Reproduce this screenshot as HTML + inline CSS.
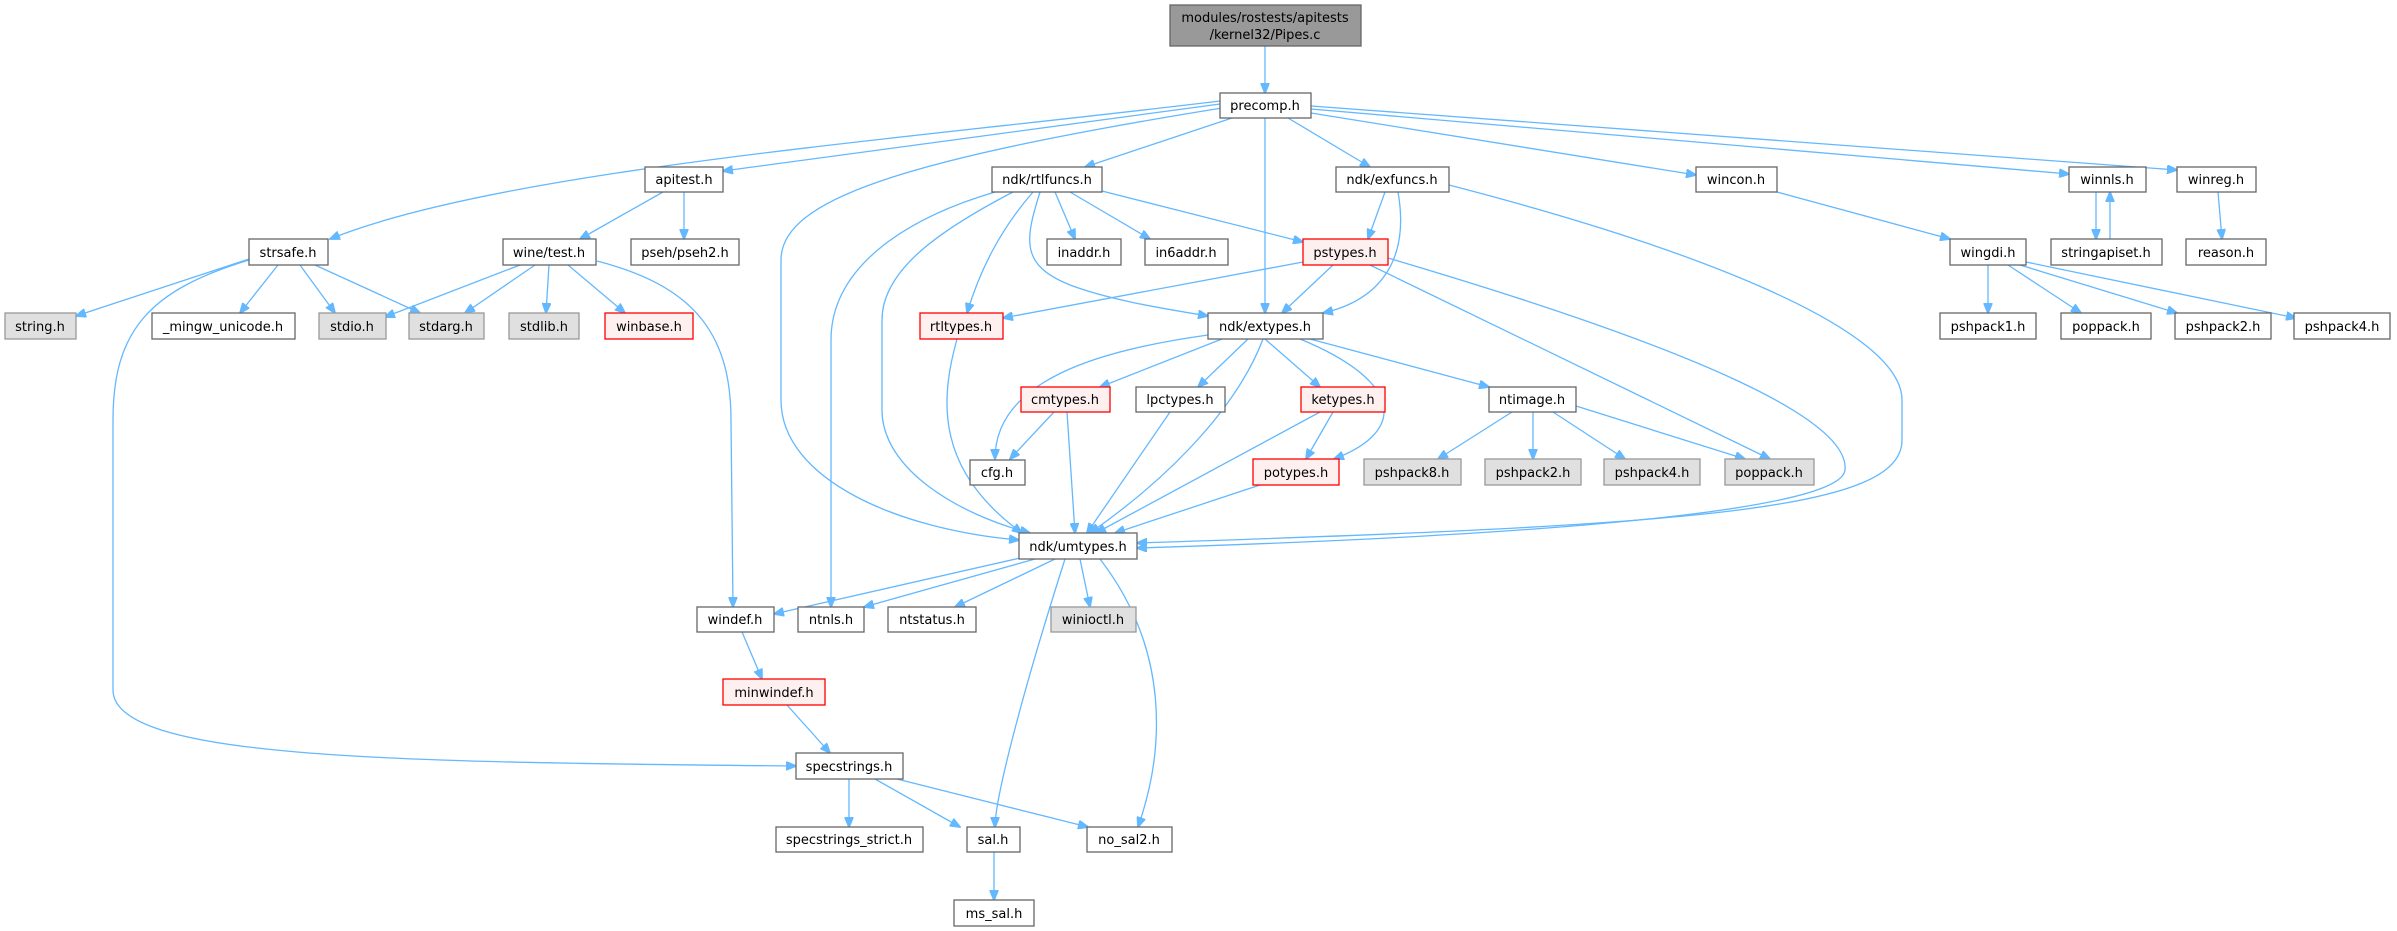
<!DOCTYPE html>
<html><head><meta charset="utf-8"><style>
html,body{margin:0;padding:0;background:#fff;}
svg{display:block;}
text{font-family:"DejaVu Sans","Liberation Sans",sans-serif;font-size:13px;fill:#000;text-anchor:middle;}
.w{fill:#fff;stroke:#666;stroke-width:1.3;}
.g{fill:#e0e0e0;stroke:#999;stroke-width:1.3;}
.r{fill:#fff0f0;stroke:#f00;stroke-width:1.3;}
.k{fill:#999;stroke:#666;stroke-width:1.3;}
path{fill:none;stroke:#63b8ff;stroke-width:1.3;}
</style></head><body>
<svg width="2397" height="931" viewBox="0 0 2397 931" xmlns="http://www.w3.org/2000/svg">
<defs><marker id="a" markerWidth="11" markerHeight="9" refX="10" refY="4.5" orient="auto" markerUnits="userSpaceOnUse"><polygon points="0,0 11,4.5 0,9" fill="#63b8ff" stroke="#63b8ff"/></marker></defs>
<g marker-end="url(#a)">
<path d="M1265,46 L1265,93"/>
<path d="M1220,101 C 900,140 500,170 330,239"/>
<path d="M1220,104 L723,171"/>
<path d="M1222,108 C 900,160 781,200 781,260 L781,400 C781,480 900,530 1019,540"/>
<path d="M1232,118 L1085,167"/>
<path d="M1265,118 L1265,313"/>
<path d="M1288,118 L1370,167"/>
<path d="M1311,113 L1696,175"/>
<path d="M1311,109 L2069,174"/>
<path d="M1311,106 L2177,170"/>
<path d="M663,192 L580,239"/>
<path d="M684,192 L684,239"/>
<path d="M995,192 C 900,220 831,270 831,340 L831,607"/>
<path d="M1013,192 C 940,230 882,270 882,320 L882,410 C882,470 960,515 1030,533"/>
<path d="M1033,192 C 1000,230 980,270 967,313"/>
<path d="M1055,192 L1075,239"/>
<path d="M1070,192 L1150,239"/>
<path d="M1098,190 L1303,242"/>
<path d="M1040,192 C 1025,240 1020,265 1070,285 C 1110,300 1160,308 1208,316"/>
<path d="M1385,192 L1368,239"/>
<path d="M1398,192 C 1410,260 1380,300 1323,313"/>
<path d="M1449,185 C 1700,250 1902,330 1902,400 L1902,440 C1902,510 1700,525 1137,543"/>
<path d="M1777,192 L1950,239"/>
<path d="M2096,192 L2096,239"/>
<path d="M2110,239 L2110,192"/>
<path d="M2218,192 L2222,239"/>
<path d="M1988,265 L1988,313"/>
<path d="M2008,265 L2081,313"/>
<path d="M2020,265 L2177,313"/>
<path d="M2026,262 L2296,318"/>
<path d="M1303,262 L1003,318"/>
<path d="M1333,265 L1282,313"/>
<path d="M1370,265 L1770,459"/>
<path d="M1388,258 C 1700,350 1850,420 1845,470 C 1840,520 1400,540 1137,548"/>
<path d="M249,259 L76,316"/>
<path d="M278,265 L240,313"/>
<path d="M300,265 L335,313"/>
<path d="M315,265 L420,313"/>
<path d="M249,260 C 150,290 113,330 113,420 L113,690 C113,760 400,762 796,766"/>
<path d="M520,265 L385,317"/>
<path d="M535,265 L465,313"/>
<path d="M549,265 L546,313"/>
<path d="M568,265 L625,313"/>
<path d="M597,261 C 690,285 731,330 731,420 L733,607"/>
<path d="M1208,335 C 1100,350 995,380 995,459"/>
<path d="M1222,339 L1100,387"/>
<path d="M1248,339 L1198,387"/>
<path d="M1265,339 L1320,387"/>
<path d="M1310,339 L1489,387"/>
<path d="M1300,339 C 1400,380 1410,430 1334,459"/>
<path d="M1263,339 C 1240,400 1180,470 1090,533"/>
<path d="M957,339 C 940,400 935,470 1022,533"/>
<path d="M1054,412 L1010,459"/>
<path d="M1067,412 L1075,533"/>
<path d="M1170,412 L1087,533"/>
<path d="M1333,412 L1306,459"/>
<path d="M1320,412 L1096,533"/>
<path d="M1260,485 L1115,533"/>
<path d="M1512,412 L1438,459"/>
<path d="M1533,412 L1533,459"/>
<path d="M1553,412 L1625,459"/>
<path d="M1576,406 L1745,459"/>
<path d="M1020,558 L774,614"/>
<path d="M1035,559 L864,607"/>
<path d="M1055,559 L955,607"/>
<path d="M1080,559 L1090,607"/>
<path d="M1065,559 C 1020,700 995,800 995,827"/>
<path d="M1100,559 C 1170,650 1165,750 1138,827"/>
<path d="M742,632 L762,679"/>
<path d="M787,705 L830,753"/>
<path d="M849,779 L849,827"/>
<path d="M875,779 L960,827"/>
<path d="M897,779 L1088,827"/>
<path d="M994,852 L994,900"/>
</g>
<rect class="k" x="1170" y="5" width="191" height="41"/><text x="1265" y="22">modules/rostests/apitests</text><text x="1265" y="39">/kernel32/Pipes.c</text>
<g>
<rect class="w" x="1220" y="93" width="91" height="25"/><text x="1265" y="110">precomp.h</text>
<rect class="w" x="645" y="167" width="78" height="25"/><text x="684" y="184">apitest.h</text>
<rect class="w" x="992" y="167" width="110" height="25"/><text x="1047" y="184">ndk/rtlfuncs.h</text>
<rect class="w" x="1336" y="167" width="113" height="25"/><text x="1392" y="184">ndk/exfuncs.h</text>
<rect class="w" x="1696" y="167" width="81" height="25"/><text x="1736" y="184">wincon.h</text>
<rect class="w" x="2069" y="167" width="77" height="25"/><text x="2107" y="184">winnls.h</text>
<rect class="w" x="2177" y="167" width="79" height="25"/><text x="2216" y="184">winreg.h</text>
<rect class="w" x="249" y="239" width="79" height="26"/><text x="288" y="257">strsafe.h</text>
<rect class="w" x="503" y="239" width="93" height="26"/><text x="549" y="257">wine/test.h</text>
<rect class="w" x="631" y="239" width="108" height="26"/><text x="685" y="257">pseh/pseh2.h</text>
<rect class="w" x="1047" y="239" width="74" height="26"/><text x="1084" y="257">inaddr.h</text>
<rect class="w" x="1145" y="239" width="83" height="26"/><text x="1186" y="257">in6addr.h</text>
<rect class="r" x="1303" y="239" width="85" height="26"/><text x="1345" y="257">pstypes.h</text>
<rect class="w" x="1950" y="239" width="76" height="26"/><text x="1988" y="257">wingdi.h</text>
<rect class="w" x="2051" y="239" width="111" height="26"/><text x="2106" y="257">stringapiset.h</text>
<rect class="w" x="2186" y="239" width="80" height="26"/><text x="2226" y="257">reason.h</text>
<rect class="g" x="5" y="313" width="71" height="26"/><text x="40" y="331">string.h</text>
<rect class="w" x="152" y="313" width="143" height="26"/><text x="223" y="331">_mingw_unicode.h</text>
<rect class="g" x="319" y="313" width="67" height="26"/><text x="352" y="331">stdio.h</text>
<rect class="g" x="409" y="313" width="75" height="26"/><text x="446" y="331">stdarg.h</text>
<rect class="g" x="509" y="313" width="70" height="26"/><text x="544" y="331">stdlib.h</text>
<rect class="r" x="605" y="313" width="88" height="26"/><text x="649" y="331">winbase.h</text>
<rect class="r" x="920" y="313" width="83" height="26"/><text x="961" y="331">rtltypes.h</text>
<rect class="w" x="1208" y="313" width="115" height="26"/><text x="1265" y="331">ndk/extypes.h</text>
<rect class="w" x="1940" y="313" width="96" height="26"/><text x="1988" y="331">pshpack1.h</text>
<rect class="w" x="2061" y="313" width="90" height="26"/><text x="2106" y="331">poppack.h</text>
<rect class="w" x="2175" y="313" width="96" height="26"/><text x="2223" y="331">pshpack2.h</text>
<rect class="w" x="2294" y="313" width="96" height="26"/><text x="2342" y="331">pshpack4.h</text>
<rect class="r" x="1021" y="387" width="89" height="25"/><text x="1065" y="404">cmtypes.h</text>
<rect class="w" x="1136" y="387" width="89" height="25"/><text x="1180" y="404">lpctypes.h</text>
<rect class="r" x="1301" y="387" width="84" height="25"/><text x="1343" y="404">ketypes.h</text>
<rect class="w" x="1489" y="387" width="87" height="25"/><text x="1532" y="404">ntimage.h</text>
<rect class="w" x="970" y="460" width="55" height="25"/><text x="997" y="477">cfg.h</text>
<rect class="r" x="1253" y="459" width="86" height="26"/><text x="1296" y="477">potypes.h</text>
<rect class="g" x="1364" y="459" width="97" height="26"/><text x="1412" y="477">pshpack8.h</text>
<rect class="g" x="1485" y="459" width="96" height="26"/><text x="1533" y="477">pshpack2.h</text>
<rect class="g" x="1604" y="459" width="96" height="26"/><text x="1652" y="477">pshpack4.h</text>
<rect class="g" x="1725" y="459" width="89" height="26"/><text x="1769" y="477">poppack.h</text>
<rect class="w" x="1019" y="533" width="118" height="26"/><text x="1078" y="551">ndk/umtypes.h</text>
<rect class="w" x="697" y="607" width="77" height="25"/><text x="735" y="624">windef.h</text>
<rect class="w" x="798" y="607" width="66" height="25"/><text x="831" y="624">ntnls.h</text>
<rect class="w" x="888" y="607" width="88" height="25"/><text x="932" y="624">ntstatus.h</text>
<rect class="g" x="1051" y="607" width="85" height="25"/><text x="1093" y="624">winioctl.h</text>
<rect class="r" x="723" y="679" width="102" height="26"/><text x="774" y="697">minwindef.h</text>
<rect class="w" x="796" y="753" width="107" height="26"/><text x="849" y="771">specstrings.h</text>
<rect class="w" x="776" y="827" width="147" height="25"/><text x="849" y="844">specstrings_strict.h</text>
<rect class="w" x="967" y="827" width="53" height="25"/><text x="993" y="844">sal.h</text>
<rect class="w" x="1087" y="827" width="85" height="25"/><text x="1129" y="844">no_sal2.h</text>
<rect class="w" x="954" y="900" width="80" height="26"/><text x="994" y="918">ms_sal.h</text>
</g>
</svg>
</body></html>
